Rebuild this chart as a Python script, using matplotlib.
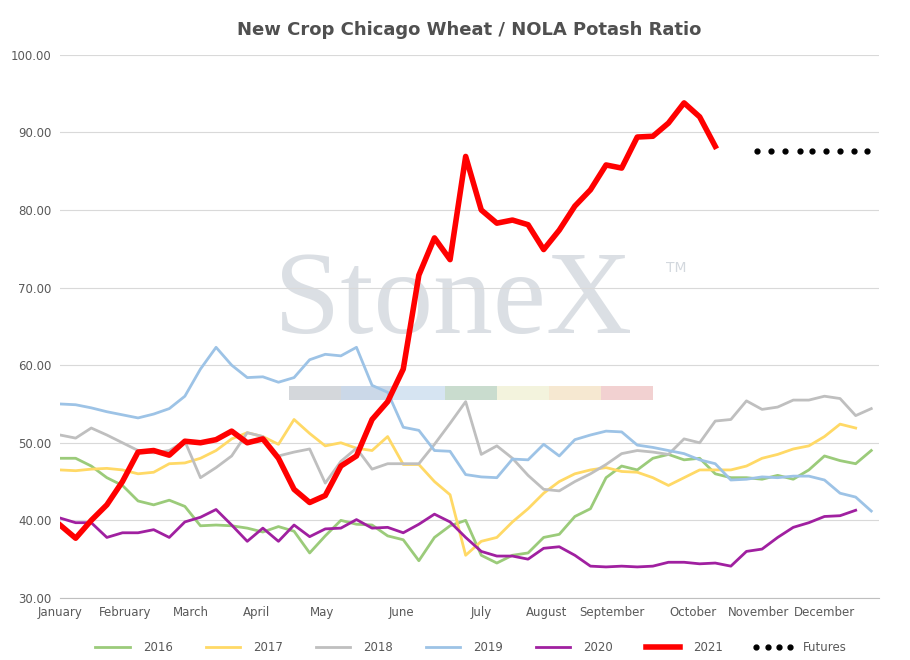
import numpy as np
import matplotlib.pyplot as plt
from matplotlib.patches import Rectangle

series = {
    "2016": ("#9BCB7A", 2.0, [48, 48, 47, 45.5, 44.5, 42.5, 42, 42.6, 41.8, 39.3, 39.4, 39.3, 39, 38.5, 39.2, 38.6,
                             35.8, 38, 40, 39.5, 39.4, 38, 37.5, 34.8, 37.8, 39.3, 40, 35.5, 34.5, 35.5, 35.8, 37.8,
                             38.2, 40.5, 41.5, 45.5, 47, 46.5, 48, 48.5, 47.8, 48, 46, 45.5, 45.5, 45.3, 45.8, 45.3,
                             46.5, 48.3, 47.7, 47.3, 49]),
    "2017": ("#FFD966", 2.0, [46.5, 46.4, 46.6, 46.7, 46.5, 46, 46.2, 47.3, 47.4, 48, 49, 50.5, 51.3, 50.8, 49.8, 53,
                             51.2, 49.6, 50, 49.3, 49, 50.8, 47.2, 47.2, 45, 43.3, 35.5, 37.3, 37.8, 39.8, 41.5, 43.5,
                             45, 46, 46.5, 46.8, 46.3, 46.2, 45.5, 44.5, 45.5, 46.5, 46.5, 46.5, 47, 48, 48.5, 49.2,
                             49.6, 50.8, 52.4, 51.9]),
    "2018": ("#BFBFBF", 2.0, [51, 50.6, 51.9, 51, 50, 49, 48.7, 49, 50.2, 45.5, 46.8, 48.3, 51.3, 50.8, 48.3, 48.8,
                             49.2, 44.8, 47.6, 49.3, 46.6, 47.3, 47.3, 47.3, 49.8, 52.5, 55.3, 48.5, 49.6, 48, 45.8,
                             44, 43.8, 45, 46, 47.2, 48.6, 49, 48.8, 48.5, 50.5, 50, 52.8, 53, 55.4, 54.3, 54.6, 55.5,
                             55.5, 56, 55.7, 53.5, 54.4]),
    "2019": ("#9DC3E6", 2.0, [55, 54.9, 54.5, 54, 53.6, 53.2, 53.7, 54.4, 56, 59.5, 62.3, 60, 58.4, 58.5, 57.8, 58.4,
                             60.7, 61.4, 61.2, 62.3, 57.4, 56.5, 52, 51.6, 49, 48.9, 45.9, 45.6, 45.5, 47.9, 47.8,
                             49.8, 48.3, 50.4, 51, 51.5, 51.4, 49.7, 49.4, 49, 48.6, 47.8, 47.3, 45.2, 45.3, 45.6,
                             45.5, 45.7, 45.7, 45.2, 43.5, 43, 41.2]),
    "2020": ("#A020A0", 2.0, [40.3, 39.7, 39.7, 37.8, 38.4, 38.4, 38.8, 37.8, 39.8, 40.4, 41.4, 39.4, 37.3, 39, 37.3,
                             39.4, 37.9, 38.9, 39, 40.1, 39, 39.1, 38.4, 39.5, 40.8, 39.8, 37.8, 36, 35.4, 35.4, 35,
                             36.4, 36.6, 35.5, 34.1, 34, 34.1, 34, 34.1, 34.6, 34.6, 34.4, 34.5, 34.1, 36, 36.3, 37.8,
                             39.1, 39.7, 40.5, 40.6, 41.3]),
    "2021": ("#FF0000", 4.0, [39.4, 37.7, 40, 42, 45, 48.8, 49, 48.4, 50.2, 50, 50.4, 51.5, 50, 50.5, 48, 44, 42.3,
                             43.2, 47, 48.3, 53, 55.3, 59.5, 71.6, 76.4, 73.6, 86.9, 80, 78.3, 78.7, 78.1, 74.9, 77.4,
                             80.5, 82.6, 85.8, 85.4, 89.4, 89.5, 91.2, 93.8, 92, 88.2]),
}
futures_x = [44.7, 45.6, 46.5, 47.4, 48.2, 49.1, 50.0, 50.9, 51.7]
futures = [87.6] * 9

fig = plt.figure(figsize=(9.1, 6.6), dpi=100)
ax = fig.add_axes([0.066, 0.094, 0.9, 0.823])

# watermark
ax.text(0.48, 0.54, "StoneX", transform=ax.transAxes, ha="center", va="center",
        fontsize=86, family="Liberation Serif", color="#D3D8DE", alpha=0.8, zorder=0)
ax.text(0.74, 0.6, "TM", transform=ax.transAxes, fontsize=10, color="#D3D8DE", zorder=0)
wm_cols = ["#D0D3D8", "#C6D4E6", "#D2E2F1", "#C4D9C9", "#F2F2DA", "#F5E6CC", "#F1CCCC"]
for i, c in enumerate(wm_cols):
    ax.add_patch(Rectangle((0.28 + i * 0.0635, 0.365), 0.0635, 0.025, transform=ax.transAxes,
                           color=c, alpha=0.9, zorder=0, lw=0))

for name, (col, lw, vals) in series.items():
    ax.plot(range(len(vals)), vals, color=col, lw=lw, label=name, zorder=3 if name == "2021" else 2)
ax.plot(futures_x, futures, ls="none", marker="o", ms=3.5, color="black", label="Futures")

ax.set_ylim(30, 100)
ax.set_yticks(np.arange(30, 101, 10))
ax.set_yticklabels([f"{v:.2f}" for v in np.arange(30, 101, 10)], fontsize=8.5, color="#595959")
ax.set_xlim(0, 52.5)
months = ["January", "February", "March", "April", "May", "June", "July", "August",
          "September", "October", "November", "December"]
ax.set_xticks([0, 4.2, 8.4, 12.6, 16.8, 21.9, 27, 31.2, 35.4, 40.6, 44.8, 49])
ax.set_xticklabels(months, fontsize=8.5, color="#595959")
ax.tick_params(length=0, pad=6)
ax.grid(axis="y", color="#D9D9D9", lw=0.8)
ax.set_axisbelow(True)
for s in ["top", "right", "left"]:
    ax.spines[s].set_visible(False)
ax.spines["bottom"].set_color("#BFBFBF")

ax.set_title("New Crop Chicago Wheat / NOLA Potash Ratio", fontsize=13, fontweight="bold",
             color="#505050", pad=14)
ax.legend(loc="upper center", bbox_to_anchor=(0.5, -0.06), ncol=7, frameon=False, numpoints=4,
          fontsize=8.5, handlelength=3.5, columnspacing=2.5, labelcolor="#595959")

fig.savefig("out.png")
